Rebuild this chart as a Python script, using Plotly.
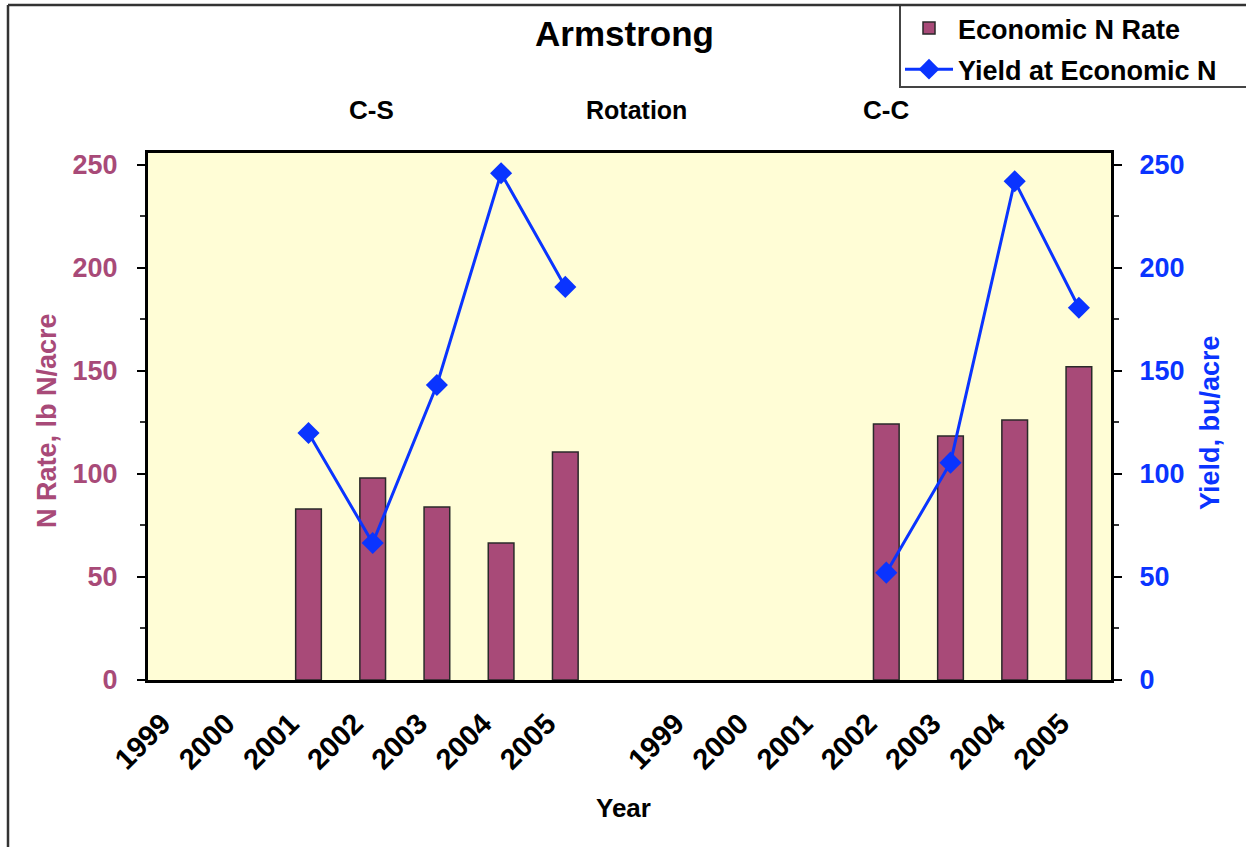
import plotly.graph_objects as go

# ---- data ----
year_labels = ["1999", "2000", "2001", "2002", "2003", "2004", "2005", "",
               "1999", "2000", "2001", "2002", "2003", "2004", "2005"]
n_rate = [None, None, 83, 98, 84, 66.5, 110.7, None,
          None, None, None, 124.3, 118.4, 126.2, 152.1]
yield_econ = [None, None, 119.9, 66.5, 143.2, 246, 190.8, None,
              None, None, None, 52.1, 105.5, 242.1, 180.7]
group_labels = ["C-S", "Rotation", "C-C"]

x_idx = list(range(len(year_labels)))

W, H = 1246, 847
PL, PR, PT, PB = 148, 1111, 153, 680  # plot area pixels


def px(x):
    return (x - PL) / (PR - PL)


def py(y):
    return (PB - y) / (PB - PT)


FONT = "Liberation Sans, Arial, sans-serif"
MAG = "#A84A78"
BLUE = "#0A34FF"

fig = go.Figure()
fig.add_trace(go.Bar(
    x=x_idx, y=n_rate, name="Economic N Rate", width=0.4, legendgroup="a",
    marker=dict(color=MAG, line=dict(color="#2a2a2a", width=1.5)),
    yaxis="y",
))
fig.add_trace(go.Scatter(
    x=x_idx, y=yield_econ, name="Yield at Economic N", mode="lines+markers",
    legendgroup="b",
    line=dict(color=BLUE, width=3),
    marker=dict(symbol="diamond", size=17, color=BLUE),
    yaxis="y2", connectgaps=False,
))

fig.update_layout(
    width=W, height=H,
    margin=dict(l=PL, r=W - PR, t=PT, b=H - PB, autoexpand=False),
    paper_bgcolor="white", plot_bgcolor="#FFFDD6",
    font=dict(family=FONT, size=26, color="black", weight="bold"),
    showlegend=True,
    legend=dict(
        x=px(900), y=py(4), xanchor="left", yanchor="top",
        bgcolor="rgba(0,0,0,0)", borderwidth=0,
        font=dict(family=FONT, size=27, color="black", weight="bold"),
        traceorder="grouped", tracegroupgap=3, itemwidth=48,
    ),
    bargap=0.6,
    xaxis=dict(
        range=[-0.5, 14.5], tickmode="array", tickvals=x_idx, ticktext=year_labels,
        tickangle=-45, showgrid=False, zeroline=False,
        showline=True, linecolor="black", linewidth=3, mirror=True,
        ticks="", tickfont=dict(family=FONT, size=29, color="black", weight="bold"),
        ticklabelstandoff=12, ticklabelshift=-18,
    ),
    yaxis=dict(
        range=[0, 255.8], tickvals=[0, 50, 100, 150, 200, 250],
        showgrid=False, zeroline=False,
        showline=True, linecolor="black", linewidth=3,
        ticks="outside", ticklen=8, tickwidth=2, tickcolor="black",
        minor=dict(dtick=25, ticks="outside", ticklen=5, tickwidth=1.5, tickcolor="#333"),
        tickfont=dict(family=FONT, size=27, color=MAG, weight="bold"),
        ticklabelstandoff=14,
    ),
    yaxis2=dict(
        range=[0, 255.8], tickvals=[0, 50, 100, 150, 200, 250],
        overlaying="y", side="right", showgrid=False, zeroline=False,
        showline=True, linecolor="black", linewidth=3,
        ticks="outside", ticklen=8, tickwidth=2, tickcolor="black",
        minor=dict(dtick=25, ticks="outside", ticklen=5, tickwidth=1.5, tickcolor="#333"),
        tickfont=dict(family=FONT, size=27, color=BLUE, weight="bold"),
        ticklabelstandoff=12,
    ),
)

annots = [
    dict(text="Armstrong", x=px(624), y=py(34), font=dict(size=35)),
    dict(text=group_labels[0], x=px(371), y=py(110), font=dict(size=26)),
    dict(text=group_labels[1], x=px(636), y=py(110), font=dict(size=25)),
    dict(text=group_labels[2], x=px(886), y=py(110), font=dict(size=26)),
    dict(text="Year", x=px(623), y=py(808), font=dict(size=26)),
    dict(text="N Rate, lb N/acre", x=px(47), y=py(421), textangle=-90,
         font=dict(size=27, color=MAG)),
    dict(text="Yield, bu/acre", x=px(1210), y=py(423), textangle=-90,
         font=dict(size=27, color=BLUE)),
]
for a in annots:
    f = dict(family=FONT, color="black", weight="bold")
    f.update(a.pop("font"))
    fig.add_annotation(xref="paper", yref="paper", xanchor="center", yanchor="middle",
                       showarrow=False, font=f, **a)

# outer chart frame (left and top edges visible)
fig.add_shape(type="line", xref="paper", yref="paper",
              x0=px(8), x1=px(8), y0=py(5), y1=py(900),
              line=dict(color="#333333", width=2.5))
fig.add_shape(type="line", xref="paper", yref="paper",
              x0=px(8), x1=px(1300), y0=py(5), y1=py(5),
              line=dict(color="#333333", width=2.5))
# legend box
fig.add_shape(type="rect", xref="paper", yref="paper",
              x0=px(900), x1=px(1300), y0=py(5), y1=py(87),
              fillcolor="white", line=dict(color="#444444", width=2), layer="below")

fig.write_html("out.html")
